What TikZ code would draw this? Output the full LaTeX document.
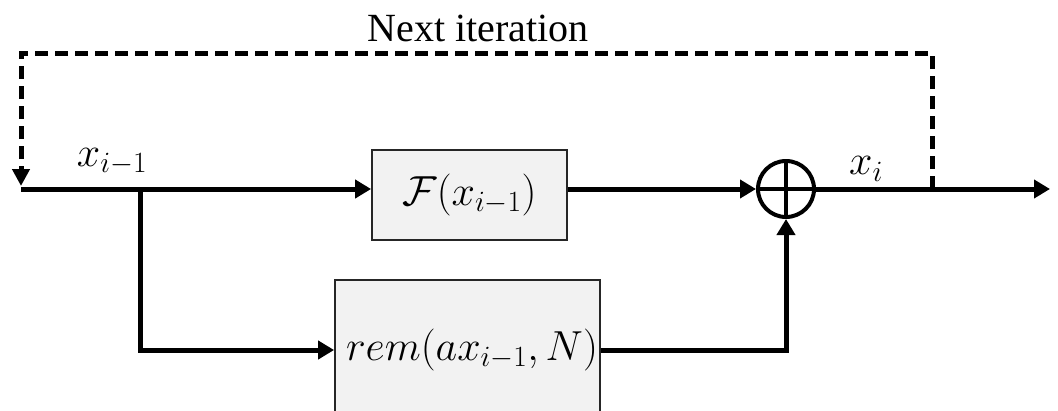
\RequirePackage{fix-cm}
\documentclass[tikz,border=0pt]{standalone}
\usepackage{fontspec}
\newfontfamily\labelfont{Liberation Serif}
\usetikzlibrary{arrows.meta}
\begin{document}
\begin{tikzpicture}[x=1pt,y=-1pt,
  wire/.style={line width=5pt},
  arr/.style={wire,-{Triangle[length=16pt,width=18pt]}},
  dashwire/.style={line width=5pt,dash pattern=on 13pt off 7pt,miter limit=10},
  block/.style={draw=black!85,line width=1.8pt,fill=black!5,inner sep=0pt},
  mathtext/.style={font=\fontsize{42}{48}\selectfont}]
\useasboundingbox (0,0) rectangle (1058,410);
\clip (0,0) rectangle (1058,410);
\coordinate (start) at (21,189);
\coordinate (dashend) at (21,186);
\coordinate (branch) at (140,189);
\coordinate (tap) at (932,189);
\coordinate (end) at (1050,189);
\coordinate (tl) at (21,53);
\coordinate (tr) at (932,53);
\node[block,minimum width=195pt,minimum height=90pt,mathtext] (F) at (469.5,195) {$\mathcal{F}(x_{i-1})$};
\node[block,minimum width=265pt,minimum height=140pt,mathtext] (rem) at (467.5,350) {};
\node[mathtext] (remtext) at (472,350) {$rem(ax_{i-1},N)$};
\node[circle,draw,line width=4pt,minimum size=56pt,inner sep=0pt] (sum) at (786,189) {};
\draw[line width=4pt] (sum.north) -- (sum.south) (sum.west) -- (sum.east);
\draw[wire] (start) -- (branch);
\draw[arr] (branch) -- (branch -| F.west);
\draw[arr] (F.east |- start) -- (sum.west);
\draw[arr] (branch) |- (rem.west);
\draw[arr] (rem.east) -| (sum.south);
\draw[arr] (sum.east) -- (end);
\draw[dashwire,-{Triangle[length=17pt,width=17pt]}] (tap) -- (tr) -- (tl) -- (dashend);
\node[mathtext] (lx) at (112,162) {$x_{i-1}$};
\node[mathtext] (lxi) at (866,169) {$x_i$};
\node[font=\labelfont\fontsize{40}{48}\selectfont] (title) at (478,28) {Next iteration};
\end{tikzpicture}
\end{document}
